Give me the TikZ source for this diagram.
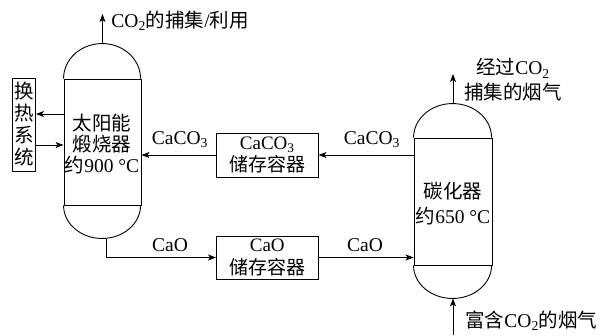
\documentclass[tikz,border=0pt]{standalone}
\usepackage{fontspec}
\setmainfont{Liberation Serif}
\newfontfamily\cjk{Noto Sans CJK SC}
\usetikzlibrary{arrows.meta}
\begin{document}
\begin{tikzpicture}[x=1pt,y=-1pt,line width=0.9pt,
  every node/.style={font=\fontsize{19.5}{21}\selectfont,inner sep=0pt},
  vessel/.style={draw,minimum width=77pt,minimum height=126pt},
  box/.style={draw,minimum width=101.5pt,minimum height=44pt,align=center,font=\fontsize{19}{22.5}\selectfont},
  arr/.style={-{Stealth[length=8pt,width=6pt,inset=2pt]}},
  lbl/.style={align=center}]
\useasboundingbox (0,0) rectangle (607,335);
% left vessel
\node[vessel] (L) at (102.5,142) {};
\draw (L.north west) arc[start angle=180,end angle=0,x radius=38.5pt,y radius=35pt];
\draw (L.south west) arc[start angle=180,end angle=360,x radius=38.5pt,y radius=33pt];
\node[lbl] (Lt) at (102,144) {{\cjk 太阳能}\\{\cjk 煅烧器}\\{\cjk 约}900 °C};
% right vessel
\node[vessel,minimum width=78pt,minimum height=127pt] (R) at (453,201.5) {};
\draw (R.north west) arc[start angle=180,end angle=0,x radius=39pt,y radius=34pt];
\draw (R.south west) arc[start angle=180,end angle=360,x radius=39pt,y radius=33pt];
\node[lbl,font=\fontsize{19.5}{25}\selectfont] (Rt) at (453,204) {{\cjk 碳化器}\\{\cjk 约}650 °C};
% heat exchange box
\node[draw,minimum width=23.5pt,minimum height=93pt,align=center,font=\fontsize{19.5}{22}\selectfont] (H) at (23.75,124.5) {{\cjk 换}\\{\cjk 热}\\{\cjk 系}\\{\cjk 统}};
% storage boxes
\node[box] (C) at (267.25,155) {CaCO\textsubscript{3}\\{\cjk 储存容器}};
\node[box,minimum height=43pt] (O) at (267.25,257.5) {CaO\\{\cjk 储存容器}};
% coordinates
\coordinate (Ltop) at ([yshift=35pt]L.north);
\coordinate (Lco2) at (102.5,14);
\coordinate (Lout) at (106.5,239);
\coordinate (Rtop) at ([yshift=34pt]R.north);
\coordinate (Rout) at (453,74);
\coordinate (Rbot) at ([yshift=-33pt]R.south);
\coordinate (Rin) at (453,335);
% connectors
\draw[arr] (Ltop) -- (Lco2);
\draw[arr] (Rtop) -- (Rout);
\draw[arr] (Rin) -- (Rbot);
\draw[arr] ([yshift=10.5pt]H.east -| L.west) -- ([yshift=10.5pt]H.east);
\draw[arr] ([yshift=-20.5pt]H.east) -- ([yshift=-20.5pt]H.east -| L.west);
\draw[arr] (C.west) -- (C.west -| L.east);
\draw[arr] (C.east -| R.west) -- (C.east);
\draw[arr] (Lout) |- (O.west);
\draw[arr] (O.east) -- (O.east -| R.west);
% labels
\node[anchor=west] (t1) at (111,21) {CO\textsubscript{2}{\cjk 的捕集}/{\cjk 利用}};
\node[lbl,font=\fontsize{19.5}{25}\selectfont] (t2) at (513,80) {{\cjk 经过}CO\textsubscript{2}\\{\cjk 捕集的烟气}};
\node[anchor=west] (t3) at (465,321) {{\cjk 富含}CO\textsubscript{2}{\cjk 的烟气}};
\node (l1) at (180,140) {CaCO\textsubscript{3}};
\node (l2) at (372,140) {CaCO\textsubscript{3}};
\node (l3) at (170,245) {CaO};
\node (l4) at (365,245) {CaO};
\end{tikzpicture}
\end{document}
